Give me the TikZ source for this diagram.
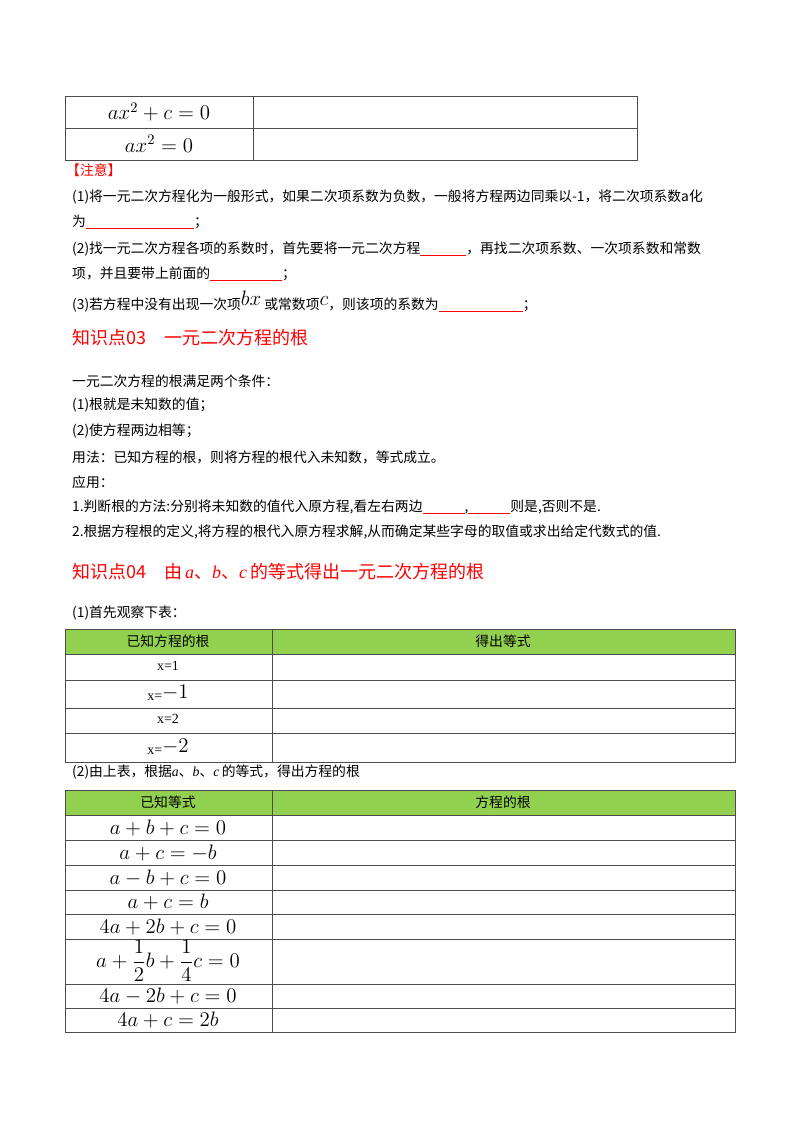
\documentclass[tikz,border=0pt]{standalone}
\usepackage{fontspec}
\setmainfont{Liberation Serif}
\newfontfamily\cjk{Noto Sans CJK SC}
\definecolor{hdr}{HTML}{92D050}
\newcommand{\blankline}[1]{\textcolor{red}{\rule[-2pt]{#1pt}{0.6pt}}}
\newcommand{\mm}[1]{\scalebox{1.45}{$#1$}}
\begin{document}
\begin{tikzpicture}[x=1pt,y=-1pt,
  txt/.style={anchor=west,inner sep=0pt,font=\cjk\fontsize{13.8}{15}\selectfont},
  head/.style={anchor=west,inner sep=0pt,text=red,font=\cjk\fontsize{18}{20}\selectfont},
  cell/.style={inner sep=0pt,font=\fontsize{14}{15}\selectfont},
  hcell/.style={inner sep=0pt,font=\cjk\fontsize{13.8}{15}\selectfont},
  grid/.style={draw=black!70,line width=0.8pt}]
\useasboundingbox (0,0) rectangle (800,1132);
% table 1
\draw[grid] (65,96) rectangle (637,160) (65,128)--(637,128) (253,96)--(253,160);
\node[cell] (t1a) at (159,112) {\mm{ax^2+c=0}};
\node[cell] (t1b) at (159,144) {\mm{ax^2=0}};
\node[txt,text=red] (zy) at (66,170) {【注意】};
\node[txt] (n1) at (72,197) {(1)将一元二次方程化为一般形式，如果二次项系数为负数，一般将方程两边同乘以-1，将二次项系数a化};
\node[txt] (n1b) at (72,222) {为\blankline{108}；};
\node[txt] (n2) at (72,249) {(2)找一元二次方程各项的系数时，首先要将一元二次方程\blankline{46}，再找二次项系数、一次项系数和常数};
\node[txt] (n2b) at (72,274) {项，并且要带上前面的\blankline{72}；};
\node[txt] (n3) at (72,302) {(3)若方程中没有出现一次项\raisebox{4pt}{\mm{bx}}\ 或常数项\raisebox{4pt}{\mm{c}}，则该项的系数为\blankline{84}；};
\node[head] (h3) at (72,338) {知识点03\quad 一元二次方程的根};
\node[txt] (p1) at (72,381) {一元二次方程的根满足两个条件：};
\node[txt] (p2) at (72,405) {(1)根就是未知数的值；};
\node[txt] (p3) at (72,431) {(2)使方程两边相等；};
\node[txt] (p4) at (72,457) {用法：已知方程的根，则将方程的根代入未知数，等式成立。};
\node[txt] (p5) at (72,482) {应用：};
\node[txt] (p6) at (72,507) {1.判断根的方法:分别将未知数的值代入原方程,看左右两边\blankline{42},\blankline{42}则是,否则不是.};
\node[txt] (p7) at (72,532) {2.根据方程根的定义,将方程的根代入原方程求解,从而确定某些字母的取值或求出给定代数式的值.};
\node[head] (h4) at (72,572) {知识点04\quad 由\,{\rmfamily\itshape a}、{\rmfamily\itshape b}、{\rmfamily\itshape c}\,的等式得出一元二次方程的根};
\node[txt] (q1) at (72,613) {(1)首先观察下表：};
% table 2
\fill[hdr] (65,629) rectangle (735,654);
\draw[grid] (65,629) rectangle (735,762);
\foreach \y in {654,680,708,733} \draw[grid] (65,\y)--(735,\y);
\draw[grid] (272,629)--(272,762);
\node[hcell] (a0) at (168,641) {已知方程的根};
\node[hcell] (b0) at (503,641) {得出等式};
\node[cell] (a1) at (168,666) {x=1};
\node[cell] (a2) at (168,693) {x=\raisebox{2pt}{\mm{-1}}};
\node[cell] (a3) at (168,719) {x=2};
\node[cell] (a4) at (168,747) {x=\raisebox{2pt}{\mm{-2}}};
\node[txt] (q2) at (72,772) {(2)由上表，根据{\rmfamily\itshape a}、{\rmfamily\itshape b}、{\rmfamily\itshape c}\,的等式，得出方程的根};
% table 3
\fill[hdr] (65,790) rectangle (735,815);
\draw[grid] (65,790) rectangle (735,1032);
\foreach \y in {815,840,865,890,914,939,984,1008} \draw[grid] (65,\y)--(735,\y);
\draw[grid] (272,790)--(272,1032);
\node[hcell] (c0) at (168,802) {已知等式};
\node[hcell] (d0) at (503,802) {方程的根};
\node[cell] (c1) at (168,828) {\mm{a+b+c=0}};
\node[cell] (c2) at (168,853) {\mm{a+c=-b}};
\node[cell] (c3) at (168,878) {\mm{a-b+c=0}};
\node[cell] (c4) at (168,902) {\mm{a+c=b}};
\node[cell] (c5) at (168,927) {\mm{4a+2b+c=0}};
\node[cell] (c6) at (168,961) {\mm{a+{\displaystyle\frac12}b+{\displaystyle\frac14}c=0}};
\node[cell] (c7) at (168,996) {\mm{4a-2b+c=0}};
\node[cell] (c8) at (168,1020) {\mm{4a+c=2b}};
\end{tikzpicture}
\end{document}
